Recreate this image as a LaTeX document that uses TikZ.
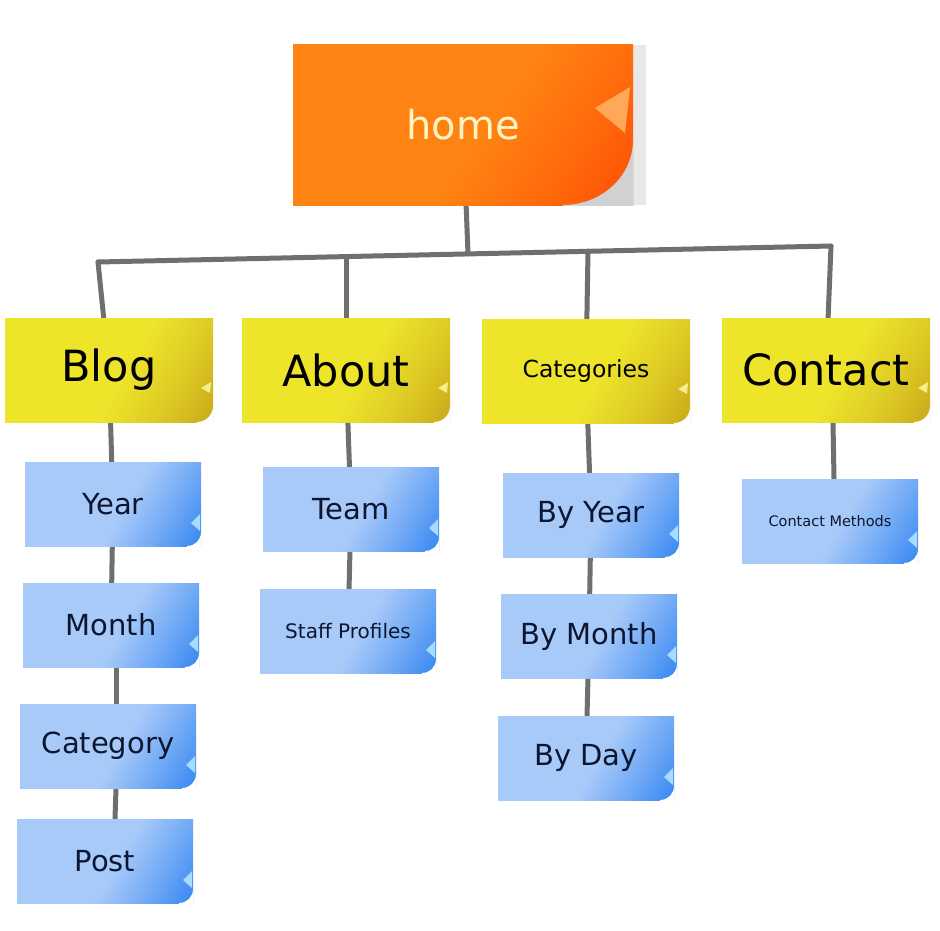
\documentclass[tikz,border=0pt]{standalone}
\usepackage{fontspec}
\setmainfont{DejaVu Sans}
\usepackage{tikz}
\usetikzlibrary{shadows,backgrounds}

\definecolor{homeA}{HTML}{FF8312}
\definecolor{homeB}{HTML}{FF5206}
\definecolor{homeflap}{HTML}{FFA857}
\definecolor{homefont}{HTML}{FFF4C4}
\definecolor{yelA}{HTML}{EEE52B}
\definecolor{yelB}{HTML}{CDAE1C}
\definecolor{yelflap}{HTML}{F6EE8C}
\definecolor{bluA}{HTML}{A8CAF9}
\definecolor{bluB}{HTML}{3F8CF2}
\definecolor{bluflap}{HTML}{A5DCFF}
\definecolor{bluefont}{HTML}{0C1631}
\definecolor{wire}{HTML}{6F6F6F}

\pgfdeclareverticalshading{homefade}{100bp}{color(0bp)=(homeB); color(18bp)=(homeB); color(30bp)=(homeB!50!homeA); color(46bp)=(homeA); color(100bp)=(homeA)}
\pgfdeclareverticalshading{yelfade}{100bp}{color(0bp)=(yelB); color(18bp)=(yelB); color(30bp)=(yelB!50!yelA); color(46bp)=(yelA); color(100bp)=(yelA)}
\pgfdeclareverticalshading{blufade}{100bp}{color(0bp)=(bluB); color(18bp)=(bluB); color(30bp)=(bluB!55!bluA); color(46bp)=(bluA); color(100bp)=(bluA)}

\begin{document}
\begin{tikzpicture}[
                    x=1pt, y=-1pt,
                    every edge/.style={draw=wire, line width=5pt, line cap=round},
                    note/.style={rectangle, inner sep=0pt, shade},
                    homenote/.style={
                        note, minimum width=340pt, minimum height=160pt,
                        shading=homefade, shading angle=55,
                        text=homefont, font=\fontsize{40}{48}\selectfont,
                        drop shadow={shadow xshift=13pt, shadow yshift=0pt, opacity=.18},
                        path picture={
                            \coordinate (se) at (path picture bounding box.south east) ;
                            \fill[black!18] ([shift={(-70pt,-2pt)}]se) -- ([shift={(2pt,-2pt)}]se) -- ([shift={(2pt,65pt)}]se)
                                -- ([yshift=65pt]se)
                                .. controls ([yshift=29pt]se) and ([xshift=-31pt]se) .. ([xshift=-70pt]se) -- cycle ;
                            \fill[homeflap] ([shift={(-38pt,97pt)}]se) -- ([shift={(-3pt,118pt)}]se)
                                -- ([shift={(-8pt,72pt)}]se) -- cycle ;
                        }
                    },
                    yellownote/.style={
                        note, minimum width=208pt, minimum height=104pt,
                        shading=yelfade, shading angle=60,
                        text=black, font=\fontsize{43}{50}\selectfont,
                        path picture={
                            \coordinate (se) at (path picture bounding box.south east) ;
                            \fill[white] ([shift={(-16pt,-2pt)}]se) -- ([shift={(2pt,-2pt)}]se) -- ([shift={(2pt,16pt)}]se)
                                -- ([yshift=16pt]se)
                                .. controls ([yshift=7pt]se) and ([xshift=-7pt]se) .. ([xshift=-16pt]se) -- cycle ;
                            \fill[yelflap] ([shift={(-12pt,34pt)}]se) -- ([shift={(-2pt,40pt)}]se)
                                -- ([shift={(-3pt,29pt)}]se) -- cycle ;
                        }
                    },
                    bluenote/.style={
                        note, minimum width=176pt, minimum height=84pt,
                        shading=blufade, shading angle=60,
                        text=bluefont, font=\fontsize{29}{34}\selectfont,
                        path picture={
                            \coordinate (se) at (path picture bounding box.south east) ;
                            \fill[white] ([shift={(-14pt,-2pt)}]se) -- ([shift={(2pt,-2pt)}]se) -- ([shift={(2pt,14pt)}]se)
                                -- ([yshift=14pt]se)
                                .. controls ([yshift=6pt]se) and ([xshift=-6pt]se) .. ([xshift=-14pt]se) -- cycle ;
                            \fill[bluflap] ([shift={(-10pt,23pt)}]se) -- ([shift={(-1pt,32pt)}]se)
                                -- ([shift={(-1pt,15pt)}]se) -- cycle ;
                        }
                    }
                ]
                \useasboundingbox (0,0) rectangle (940,931) ;

                \node (home) [homenote] at (463,125) {home} ;

                \node (blog) [yellownote] at (109,370) {Blog} ;
                \node (about) [yellownote] at (346,370) {About} ;
                \node (categories) [yellownote, font=\fontsize{23.5}{28}\selectfont] at (586,371) {Categories} ;
                \node (contact) [yellownote] at (826,370) {Contact} ;

                \node (year) [bluenote] at (113,504) {Year} ;
                \node (month) [bluenote] at (111,625) {Month} ;
                \node (category) [bluenote] at (108,746) {Category} ;
                \node (post) [bluenote] at (105,861) {Post} ;

                \node (team) [bluenote] at (351,509) {Team} ;
                \node (staff) [bluenote, font=\fontsize{20}{24}\selectfont] at (348,631) {Staff Profiles} ;

                \node (byyear) [bluenote] at (591,515) {By Year} ;
                \node (bymonth) [bluenote] at (589,636) {By Month} ;
                \node (byday) [bluenote] at (586,758) {By Day} ;

                \node (methods) [bluenote, font=\fontsize{14.5}{18}\selectfont] at (830,521) {Contact Methods} ;

                \coordinate (j0) at (468,254) ;
                \coordinate (j1) at (98,262) ;
                \coordinate (j2) at (346,257) ;
                \coordinate (j3) at (588,251) ;
                \coordinate (j4) at (831,246) ;

                \begin{scope}[on background layer]
                    \path
                    (home) edge (j0)
                    (j1) edge (j4)
                    (j1) edge (blog)
                    (j2) edge (about)
                    (j3) edge (categories)
                    (j4) edge (contact)
                    ;
                    \path
                    (blog) edge (year)
                    (year) edge (month)
                    ([xshift=5pt]month.south) edge ([xshift=8pt]category.north)
                    ([xshift=8pt]category.south) edge ([xshift=10pt]post.north)
                    (about) edge (team)
                    (team) edge (staff)
                    (categories) edge (byyear)
                    (byyear) edge (bymonth)
                    (bymonth) edge (byday)
                    ([xshift=7pt]contact.south) edge ([xshift=4pt]methods.north)
                    ;
                \end{scope}
            \end{tikzpicture}
\end{document}
